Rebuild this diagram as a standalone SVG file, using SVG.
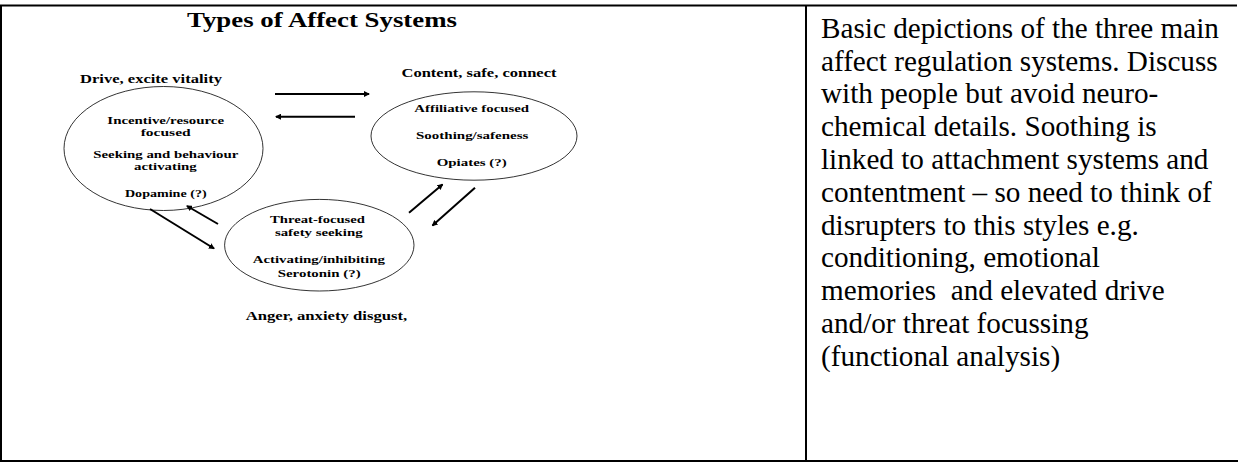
<svg xmlns="http://www.w3.org/2000/svg" width="1238" height="462" viewBox="0 0 1238 462">
<defs>
<marker id="ah" markerWidth="6" markerHeight="6" refX="5" refY="3" orient="auto" markerUnits="userSpaceOnUse">
<path d="M0,0 L6,3 L0,6 z" fill="#000"/>
</marker>
<style>
.b{font-family:"Liberation Serif","Times New Roman",serif;font-weight:bold;fill:#000;text-anchor:middle}
.t{font-size:10.5px}
.l{font-size:13px}
.body{font-family:"Liberation Serif","Times New Roman",serif;font-size:29.2px;fill:#000;white-space:pre}
.el{fill:none;stroke:#000;stroke-width:0.8}
.ar{stroke:#000;stroke-width:2;fill:none;marker-end:url(#ah)}
.frame{stroke:#000;stroke-width:2;fill:none}
</style>
</defs>
<rect width="1238" height="462" fill="#fff"/>
<g id="table">
<line class="frame" x1="0" y1="5.5" x2="1237" y2="5.5"/>
<line class="frame" x1="1" y1="5" x2="1" y2="462"/>
<line class="frame" x1="0" y1="461" x2="1238" y2="461"/>
<line class="frame" x1="806" y1="5" x2="806" y2="462"/>
</g>
<g id="title">
<text class="b" x="322" y="27" font-size="21" textLength="270" lengthAdjust="spacingAndGlyphs">Types of Affect Systems</text>
</g>
<g id="label-drive">
<text class="b l" x="151" y="83" textLength="142" lengthAdjust="spacingAndGlyphs">Drive, excite vitality</text>
</g>
<g id="label-content">
<text class="b l" x="479" y="77" textLength="155" lengthAdjust="spacingAndGlyphs">Content, safe, connect</text>
</g>
<g id="label-anger">
<text class="b l" x="326.5" y="320" textLength="161.6" lengthAdjust="spacingAndGlyphs">Anger, anxiety disgust,</text>
</g>
<g id="node-drive">
<ellipse class="el" cx="163.5" cy="148.5" rx="99.5" ry="62"/>
<text class="b t" x="165.7" y="124" textLength="116.7" lengthAdjust="spacingAndGlyphs">Incentive/resource</text>
<text class="b t" x="165.7" y="135.8" textLength="50" lengthAdjust="spacingAndGlyphs">focused</text>
<text class="b t" x="165.8" y="158.3" textLength="145" lengthAdjust="spacingAndGlyphs">Seeking and behaviour</text>
<text class="b t" x="165.4" y="170.2" textLength="62.7" lengthAdjust="spacingAndGlyphs">activating</text>
<text class="b t" x="165.8" y="197.3" textLength="81.7" lengthAdjust="spacingAndGlyphs">Dopamine (?)</text>
</g>
<g id="node-soothe">
<ellipse class="el" cx="474" cy="136" rx="103" ry="44.2"/>
<text class="b t" x="471.7" y="111.7" textLength="114.7" lengthAdjust="spacingAndGlyphs">Affiliative focused</text>
<text class="b t" x="472.2" y="139" textLength="112.3" lengthAdjust="spacingAndGlyphs">Soothing/safeness</text>
<text class="b t" x="471.7" y="166" textLength="70" lengthAdjust="spacingAndGlyphs">Opiates (?)</text>
</g>
<g id="node-threat">
<ellipse class="el" cx="319.3" cy="245.2" rx="94.7" ry="45.8"/>
<text class="b t" x="317.5" y="222.7" textLength="95" lengthAdjust="spacingAndGlyphs">Threat-focused</text>
<text class="b t" x="318.8" y="236" textLength="87.7" lengthAdjust="spacingAndGlyphs">safety seeking</text>
<text class="b t" x="318.8" y="263.3" textLength="132.3" lengthAdjust="spacingAndGlyphs">Activating/inhibiting</text>
<text class="b t" x="319.2" y="276.7" textLength="83" lengthAdjust="spacingAndGlyphs">Serotonin (?)</text>
</g>
<g id="connectors">
<line class="ar" x1="275" y1="94" x2="369" y2="94"/>
<line class="ar" x1="355" y1="116.7" x2="276" y2="116.7"/>
<line class="ar" x1="218" y1="224" x2="187" y2="206"/>
<line class="ar" x1="150" y1="209" x2="214" y2="248.5"/>
<line class="ar" x1="409" y1="212.7" x2="442.5" y2="184.5"/>
<line class="ar" x1="475" y1="187.7" x2="432.5" y2="225.5"/>
</g>
<g id="notes">
<text class="body" x="821" y="37.7">Basic depictions of the three main</text>
<text class="body" x="821" y="70.5">affect regulation systems. Discuss</text>
<text class="body" x="821" y="103.3">with people but avoid neuro-</text>
<text class="body" x="821" y="136.1">chemical details. Soothing is</text>
<text class="body" x="821" y="168.9">linked to attachment systems and</text>
<text class="body" x="821" y="201.7">contentment – so need to think of</text>
<text class="body" x="821" y="234.5">disrupters to this styles e.g.</text>
<text class="body" x="821" y="267.3">conditioning, emotional</text>
<text class="body" x="821" y="300.1">memories  and elevated drive</text>
<text class="body" x="821" y="332.9">and/or threat focussing</text>
<text class="body" x="821" y="365.7">(functional analysis)</text>
</g>
</svg>
